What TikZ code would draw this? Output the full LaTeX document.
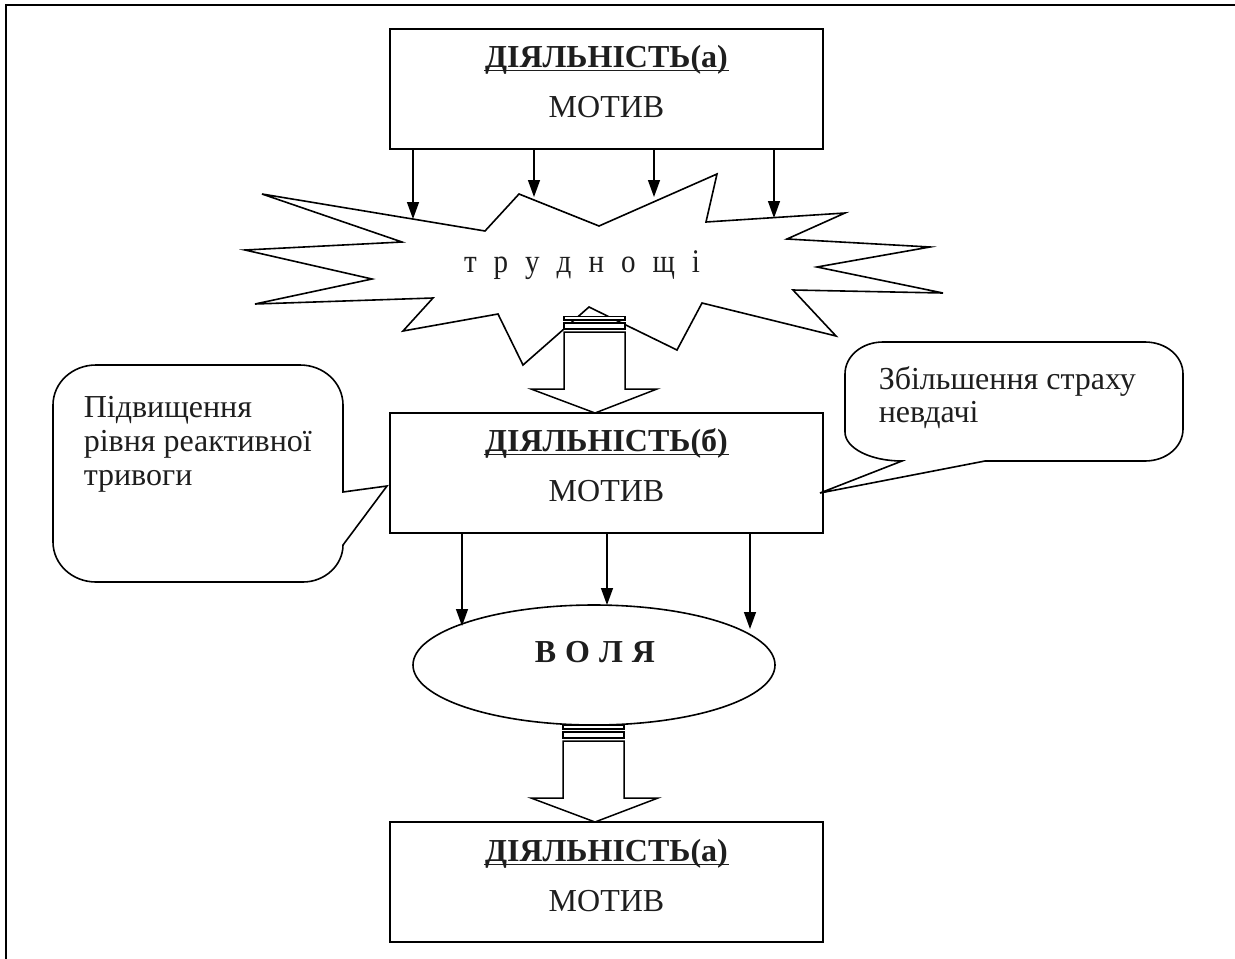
\documentclass[tikz,border=0pt]{standalone}
\usepackage{fontspec}
\setmainfont{Liberation Serif}
\newfontfamily\narrowserif{Liberation Serif}[FakeStretch=0.88]
\usetikzlibrary{shapes.geometric,arrows.meta}
\definecolor{ink}{RGB}{30,30,30}
\begin{document}
\begin{tikzpicture}[x=1pt,y=-1pt,line width=1.5pt,
  box/.style={draw,line width=1.7pt,minimum width=433pt,minimum height=120pt,inner sep=0pt,outer sep=0pt},
  txt/.style={inner sep=0pt,anchor=base,text=ink,font=\fontsize{32}{34}\selectfont},
  btxt/.style={txt,font=\fontsize{32}{34}\selectfont\bfseries},
  uline/.style={line width=1.6pt,draw=ink},
  arr/.style={-{Triangle[width=12pt,length=17pt]},line width=1.4pt},
  hollow/.style={draw,fill=white,line width=1.5pt},
  outl/.style={draw,fill=white,line width=1.6pt}]
\useasboundingbox (0,0) rectangle (1235,959);
% frame
\draw[line width=2pt] (6,959) -- (6,5) -- (1235,5);

% boxes
\node[box] (b1) at (606.5,89) {};
\node[box] (b2) at (606.5,473) {};
\node[box] (b3) at (606.5,882) {};

\node[btxt] (t1a) at (606.5,67) {ДІЯЛЬНІСТЬ(а)};
\node[txt]  (t1b) at (606.5,117) {МОТИВ};
\node[btxt] (t2a) at (606.5,451) {ДІЯЛЬНІСТЬ(б)};
\node[txt]  (t2b) at (606.5,501) {МОТИВ};
\node[btxt] (t3a) at (606.5,861) {ДІЯЛЬНІСТЬ(а)};
\node[txt]  (t3b) at (606.5,911) {МОТИВ};
\foreach \t in {t1a,t2a,t3a}{
  \draw[uline] ([yshift=-3.5pt]\t.base west) -- ([yshift=-3.5pt]\t.base east);
}

% starburst
\draw[outl] (262,194) -- (485,231) -- (519,194) -- (599,226) -- (717,174) -- (706,222)
  -- (845,213) -- (787,239) -- (930,247) -- (817,267) -- (943,293) -- (793,290)
  -- (836,336) -- (702,303) -- (677,350) -- (589,307) -- (523,365) -- (498,314)
  -- (403,331) -- (433,298) -- (255,304) -- (372,279) -- (245,250) -- (402,242) -- cycle;
\node[txt,font=\fontsize{33}{34}\narrowserif] (tr) at (582,272) {т\hspace{17pt}р\hspace{17pt}у\hspace{17pt}д\hspace{17pt}н\hspace{17pt}о\hspace{17pt}щ\hspace{17pt}і};

% arrows from box 1
\coordinate (s1) at (413,219);
\coordinate (s2) at (534,197);
\coordinate (s3) at (654,197);
\coordinate (s4) at (774,218);
\foreach \s in {s1,s2,s3,s4}{\draw[arr] (b1.south -| \s) -- (\s);}

% striped arrow 1
\coordinate (h1) at (595,413);
\draw[hollow] (564,316.5) rectangle (625,320);
\draw[hollow] (564,323) rectangle (625,329);
\draw[hollow] (564,332) -- (625,332) -- (625,389) -- (657,389) -- (h1) -- (531,389) -- (564,389) -- cycle;

% left callout
\coordinate (p1) at (387,486);
\draw[outl] (p1) -- (343,545) .. controls (343,565) and (325,582) .. (303,582) -- (96,582)
  .. controls (72,582) and (53,564) .. (53,542) -- (53,405)
  .. controls (53,383) and (72,365) .. (96,365) -- (300,365)
  .. controls (324,365) and (343,383) .. (343,405) -- (343,492) -- cycle;
\node[txt,anchor=base west] (c1a) at (83,417) {Підвищення};
\node[txt,anchor=base west] (c1b) at (83,451) {рівня реактивної};
\node[txt,anchor=base west] (c1c) at (83,485) {тривоги};

% right callout
\coordinate (p2) at (820,493);
\draw[outl] (p2) -- (902,461) .. controls (870,461) and (845,448) .. (845,432) -- (845,374)
  .. controls (845,356) and (862,342) .. (883,342) -- (1145,342)
  .. controls (1166,342) and (1183,356) .. (1183,374) -- (1183,429)
  .. controls (1183,447) and (1166,461) .. (1145,461) -- (985,461) -- cycle;
\node[txt,anchor=base west] (c2a) at (878,389) {Збільшення страху};
\node[txt,anchor=base west] (c2b) at (878,422) {невдачі};

% ellipse
\node[draw,ellipse,minimum width=362pt,minimum height=120pt,inner sep=0pt,line width=1.6pt] (v) at (594,665) {};
\node[btxt] (vt) at (595,662) {В\hspace{9pt}О\hspace{9pt}Л\hspace{9pt}Я};

% arrows from box 2
\coordinate (e1) at (462,626);
\coordinate (e2) at (607,605);
\coordinate (e3) at (750,629);
\foreach \e in {e1,e2,e3}{\draw[arr] (b2.south -| \e) -- (\e);}

% striped arrow 2
\coordinate (h2) at (595,822);
\draw[hollow] (563,725.5) rectangle (624,729);
\draw[hollow] (563,732) rectangle (624,738);
\draw[hollow] (563,741) -- (624,741) -- (624,798) -- (658,798) -- (h2) -- (531,798) -- (563,798) -- cycle;
\end{tikzpicture}
\end{document}
